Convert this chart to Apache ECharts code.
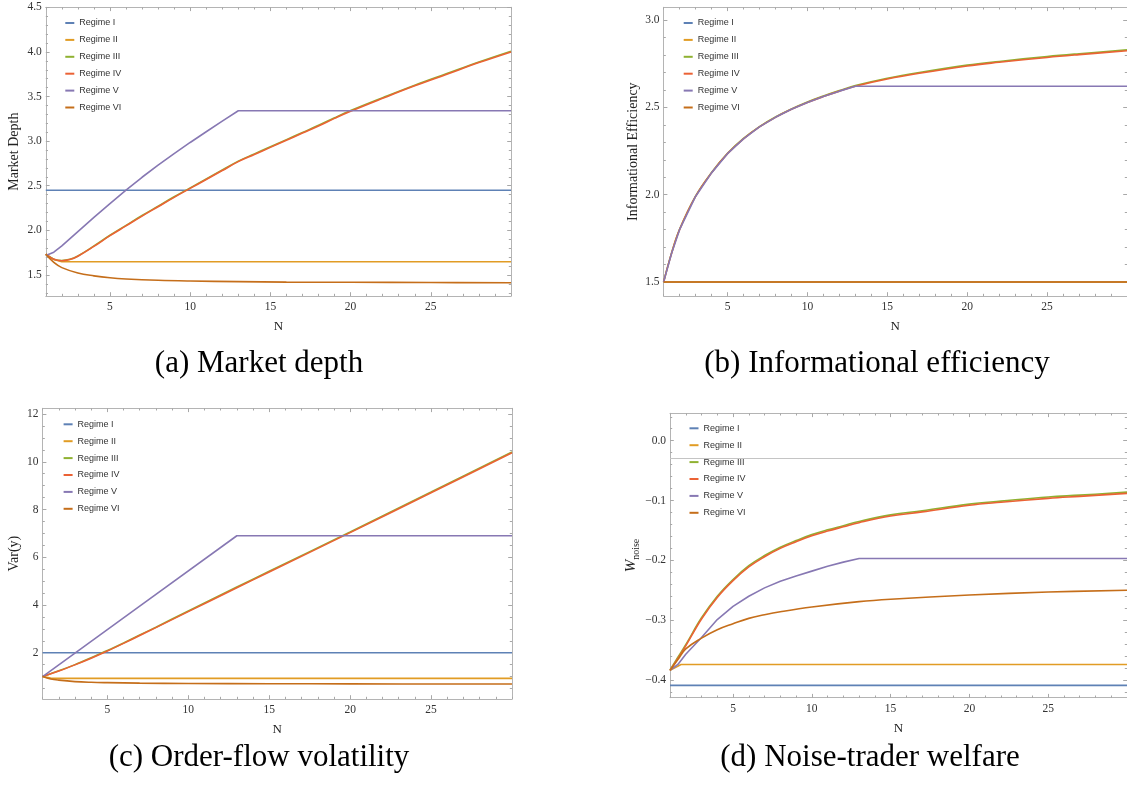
<!DOCTYPE html>
<html><head><meta charset="utf-8">
<script src="https://cdn.jsdelivr.net/npm/echarts@6/dist/echarts.min.js"></script>
<style>html,body{margin:0;padding:0;background:#fff}#c{width:1127px;height:787px}</style>
</head><body><div id="c"></div>
<script>
// ---------- labels ----------
const regimes = ['Regime I','Regime II','Regime III','Regime IV','Regime V','Regime VI'];
const captions = ['(a) Market depth','(b) Informational efficiency','(c) Order-flow volatility','(d) Noise-trader welfare'];
const xTickLabels = [5,10,15,20,25];
const depthTicks = [1.5,2.0,2.5,3.0,3.5,4.0,4.5];
const effTicks = [1.5,2.0,2.5,3.0];
const volTicks = [2,4,6,8,10,12];
const welfTicks = [-0.4,-0.3,-0.2,-0.1,0.0];

// ---------- (a) Market depth ----------
const depthI_N = [1,30];
const depthI = [2.449,2.449];
const depthII_N = [1,1.5,2,30];
const depthII = [1.732,1.672,1.648,1.648];
const depthIII_N = [1,1.5,2,2.5,3,4,5,6,7,8,9,10,11,12,13,14,15,16,17,18,19,20,22,24,26,28,30];
const depthIII = [1.732,1.677,1.662,1.675,1.713,1.825,1.945,2.056,2.166,2.271,2.376,2.476,2.576,2.676,2.776,2.857,2.937,3.017,3.097,3.177,3.262,3.342,3.487,3.627,3.757,3.887,4.008];
const depthIV_N = [1,1.5,2,2.5,3,4,5,6,7,8,9,10,11,12,13,14,15,16,17,18,19,20,22,24,26,28,30];
const depthIV = [1.732,1.675,1.659,1.672,1.71,1.82,1.94,2.05,2.16,2.265,2.37,2.47,2.57,2.67,2.77,2.85,2.93,3.01,3.09,3.17,3.255,3.335,3.48,3.62,3.75,3.88,4.0];
const depthV_N = [1,1.5,2,3,4,5,6,7,8,9,10,11,12,13,30];
const depthV = [1.718,1.755,1.825,1.985,2.145,2.30,2.45,2.595,2.73,2.86,2.985,3.105,3.225,3.34,3.34];
const depthVI_N = [1,1.5,2,3,4,5,6,8,10,13,16,20,25,30];
const depthVI = [1.732,1.64,1.582,1.522,1.49,1.468,1.455,1.44,1.432,1.425,1.42,1.418,1.415,1.413];

// ---------- (b) Informational efficiency ----------
const effI_N = [1,30];
const effI = [1.5,1.5];
const effII_N = [1,30];
const effII = [1.5,1.5];
const effIII_N = [1,1.5,2,3,4,5,6,7,8,9,10,11,12,13,15,17,20,22,25,27,30];
const effIII = [1.5,1.667,1.802,1.992,2.127,2.237,2.322,2.39,2.445,2.491,2.531,2.565,2.596,2.625,2.667,2.7,2.742,2.763,2.791,2.807,2.829];
const effIV_N = [1,1.5,2,3,4,5,6,7,8,9,10,11,12,13,15,17,20,22,25,27,30];
const effIV = [1.5,1.665,1.80,1.99,2.125,2.235,2.32,2.388,2.443,2.489,2.528,2.562,2.593,2.621,2.662,2.695,2.737,2.758,2.786,2.802,2.824];
const effV_N = [1,1.5,2,3,4,5,6,7,8,9,10,11,12,13,30];
const effV = [1.5,1.665,1.80,1.99,2.125,2.235,2.32,2.388,2.443,2.489,2.528,2.562,2.593,2.621,2.621];
const effVI_N = [1,30];
const effVI = [1.5,1.5];

// ---------- (c) Order-flow volatility ----------
const volI_N = [1,30];
const volI = [2,2];
const volII_N = [1,1.5,2,30];
const volII = [1.0,0.935,0.925,0.925];
const volIII_N = [1,2,3,4,5,6,7,8,10,13,15,20,25,30];
const volIII = [1.0,1.24,1.5,1.79,2.09,2.41,2.74,3.07,3.75,4.75,5.41,7.06,8.73,10.41];
const volIV_N = [1,2,3,4,5,6,7,8,10,13,15,20,25,30];
const volIV = [1.0,1.23,1.49,1.77,2.07,2.39,2.72,3.05,3.72,4.72,5.38,7.03,8.7,10.38];
const volV_N = [1,7,13,30];
const volV = [1.0,3.95,6.9,6.9];
const volVI_N = [1,1.5,2,3,4,5,7,10,15,20,30];
const volVI = [1.0,0.9,0.85,0.79,0.76,0.745,0.725,0.71,0.7,0.693,0.687];

// ---------- (d) Noise-trader welfare ----------
const welfI_N = [1,30];
const welfI = [-0.409,-0.409];
const welfII_N = [1,1.7,30];
const welfII = [-0.384,-0.374,-0.374];
const welfIII_N = [1,1.5,2,3,4,5,6,7,8,9,10,11,12,13,15,17,20,22,25,27,30];
const welfIII = [-0.383,-0.362,-0.341,-0.296,-0.26,-0.232,-0.209,-0.192,-0.178,-0.167,-0.157,-0.149,-0.142,-0.135,-0.124,-0.117,-0.106,-0.101,-0.094,-0.091,-0.086];
const welfIV_N = [1,1.5,2,3,4,5,6,7,8,9,10,11,12,13,15,17,20,22,25,27,30];
const welfIV = [-0.384,-0.364,-0.343,-0.298,-0.262,-0.234,-0.211,-0.194,-0.180,-0.169,-0.159,-0.151,-0.144,-0.137,-0.126,-0.119,-0.108,-0.103,-0.0964,-0.093,-0.088];
const welfV_N = [1,1.5,2,3,4,5,6,7,8,9,10,11,12,13,30];
const welfV = [-0.384,-0.374,-0.357,-0.329,-0.299,-0.277,-0.26,-0.246,-0.235,-0.226,-0.218,-0.21,-0.203,-0.197,-0.197];
const welfVI_N = [1,1.5,2,3,4,5,6,7,8,10,13,15,20,25,30];
const welfVI = [-0.384,-0.366,-0.348,-0.330,-0.316,-0.306,-0.297,-0.291,-0.286,-0.278,-0.269,-0.265,-0.258,-0.253,-0.25];
const welfAxisLine = -0.026;

// ---------- styling ----------
const colors = ['#5E81B5','#E19C24','#8FB131','#EB6235','#8778B3','#C56E1A'];
const frameColor = '#b4b4b4';
const tickColor = '#a8a8a8';
const serif = '"Liberation Serif", "Times New Roman", serif';
const sans = '"Liberation Sans", Arial, sans-serif';

function zip(xs, ys){ return xs.map((x,i)=>[x, ys[i]]); }
function stepTicks(min, max, step, exclude){
  const out = [];
  const s = Math.ceil(min/step - 1e-9);
  for (let k = s; k*step <= max + 1e-9; k++){
    const v = +(k*step).toFixed(6);
    if (!exclude.some(e => Math.abs(e - v) < 1e-9)) out.push(v);
  }
  return out;
}

const panels = [
  { grid:{left:45.8, top:7.3, width:465.2, height:288.7},
    ymin:1.264, ymax:4.5, yTicks:depthTicks, yMinor:0.1, yfmt:v=>v.toFixed(1),
    yName:'Market Depth', yGap:24, legend:{left:65.3, top:17}, cap:{x:259, y:364},
    data:[[depthI_N,depthI],[depthII_N,depthII],[depthIII_N,depthIII],[depthIV_N,depthIV],[depthV_N,depthV],[depthVI_N,depthVI]],
    smooth:[false,false,0.4,0.4,false,0.4] },
  { grid:{left:663.6, top:7.3, width:466.9, height:288.7},
    ymin:1.42, ymax:3.073, yTicks:effTicks, yMinor:0.1, yfmt:v=>v.toFixed(1),
    yName:'Informational Efficiency', yGap:23, legend:{left:683.7, top:17}, cap:{x:877, y:364},
    data:[[effI_N,effI],[effII_N,effII],[effIII_N,effIII],[effIV_N,effIV],[effV_N,effV],[effVI_N,effVI]],
    smooth:[false,false,0.4,0.4,false,false] },
  { grid:{left:42.6, top:408.3, width:469.4, height:290.7},
    ymin:0.06, ymax:12.24, yTicks:volTicks, yMinor:0.5, yfmt:v=>String(v),
    yName:'Var(y)', yGap:21, legend:{left:63.6, top:418.3}, cap:{x:259, y:758},
    data:[[volI_N,volI],[volII_N,volII],[volIII_N,volIII],[volIV_N,volIV],[volV_N,volV],[volVI_N,volVI]],
    smooth:[false,false,0.3,0.3,false,0.4] },
  { grid:{left:670, top:413.3, width:459, height:284.4},
    ymin:-0.4296, ymax:0.0458, yTicks:welfTicks, yMinor:0.02, yfmt:v=>(Math.abs(v)<1e-9?'0.0':v.toFixed(1).replace('-','\u2212')),
    yName:'{w|W}{s|noise}', yGap:28, rich:true, legend:{left:689.5, top:422.3}, cap:{x:870, y:758},
    data:[[welfI_N,welfI],[welfII_N,welfII],[welfIII_N,welfIII],[welfIV_N,welfIV],[welfV_N,welfV],[welfVI_N,welfVI]],
    smooth:[false,false,0.4,0.4,false,0.4] }
];

const option = {
  animation:false,
  backgroundColor:'#fff',
  grid:[], xAxis:[], yAxis:[], series:[], legend:[], graphic:[]
};

panels.forEach((p, gi) => {
  option.grid.push(Object.assign({}, p.grid));
  const xmin = 1, xmax = 30;
  const xMinorVals = stepTicks(xmin, xmax, 1, xTickLabels);
  const yMinorVals = stepTicks(p.ymin, p.ymax, p.yMinor, p.yTicks);
  const baseX = {type:'value', gridIndex:gi, min:xmin, max:xmax, splitLine:{show:false},
    axisLine:{show:true, onZero:false, lineStyle:{color:frameColor, width:1}}};
  const baseY = {type:'value', gridIndex:gi, min:p.ymin, max:p.ymax, splitLine:{show:false},
    axisLine:{show:true, onZero:false, lineStyle:{color:frameColor, width:1}}};
  option.xAxis.push(Object.assign({}, baseX, {position:'bottom',
    name:'N', nameLocation:'middle', nameGap:24,
    nameTextStyle:{fontFamily:serif, fontSize:13, color:'#222'},
    axisTick:{show:true, inside:true, length:3.8, customValues:xTickLabels, lineStyle:{color:tickColor}},
    axisLabel:{show:true, margin:5, customValues:xTickLabels, fontFamily:serif, fontSize:11.5, color:'#333', formatter:v=>String(v)}}));
  option.xAxis.push(Object.assign({}, baseX, {position:'bottom', axisLine:{show:false, onZero:false},
    axisTick:{show:true, inside:true, length:2.2, customValues:xMinorVals, lineStyle:{color:tickColor}},
    axisLabel:{show:false}}));
  option.xAxis.push(Object.assign({}, baseX, {position:'top',
    axisTick:{show:true, inside:true, length:3.8, customValues:xTickLabels, lineStyle:{color:tickColor}},
    axisLabel:{show:false}}));
  option.xAxis.push(Object.assign({}, baseX, {position:'top', axisLine:{show:false, onZero:false},
    axisTick:{show:true, inside:true, length:2.2, customValues:xMinorVals, lineStyle:{color:tickColor}},
    axisLabel:{show:false}}));

  const nameStyle = p.rich ? {
      rich:{
        w:{fontFamily:serif, fontStyle:'italic', fontSize:15, color:'#222', lineHeight:20},
        s:{fontFamily:serif, fontSize:10, color:'#222', lineHeight:20, verticalAlign:'bottom'}
      }} : {fontFamily:serif, fontSize:14, color:'#222', lineHeight:14};
  option.yAxis.push(Object.assign({}, baseY, {position:'left',
    name:p.yName, nameLocation:'middle', nameGap:p.yGap, nameRotate:90,
    nameTextStyle:nameStyle,
    axisTick:{show:true, inside:true, length:3.8, customValues:p.yTicks, lineStyle:{color:tickColor}},
    axisLabel:{show:true, margin:4, customValues:p.yTicks, fontFamily:serif, fontSize:11.5, color:'#333', formatter:p.yfmt}}));
  option.yAxis.push(Object.assign({}, baseY, {position:'left', axisLine:{show:false, onZero:false},
    axisTick:{show:true, inside:true, length:2.2, customValues:yMinorVals, lineStyle:{color:tickColor}},
    axisLabel:{show:false}}));
  option.yAxis.push(Object.assign({}, baseY, {position:'right',
    axisTick:{show:true, inside:true, length:3.8, customValues:p.yTicks, lineStyle:{color:tickColor}},
    axisLabel:{show:false}}));
  option.yAxis.push(Object.assign({}, baseY, {position:'right', axisLine:{show:false, onZero:false},
    axisTick:{show:true, inside:true, length:2.2, customValues:yMinorVals, lineStyle:{color:tickColor}},
    axisLabel:{show:false}}));

  p.data.forEach((d, si) => {
    const s = {
      type:'line', name:regimes[si], xAxisIndex:gi*4, yAxisIndex:gi*4,
      data:zip(d[0], d[1]), showSymbol:false, symbol:'none',
      smooth:p.smooth[si],
      lineStyle:{color:colors[si], width:1.6},
      itemStyle:{color:colors[si]},
      emphasis:{disabled:true}
    };
    if (gi === 3 && si === 0){
      s.markLine = {silent:true, symbol:'none', label:{show:false},
        lineStyle:{color:'#c4c4c4', width:1, type:'solid'},
        data:[{yAxis:welfAxisLine}]};
    }
    option.series.push(s);
  });

  option.legend.push({
    orient:'vertical', left:p.legend.left, top:p.legend.top, padding:0,
    data:regimes, icon:'rect', itemWidth:9, itemHeight:2, itemGap:4.9,
    selectedMode:false,
    textStyle:{fontFamily:sans, fontSize:9, color:'#333', lineHeight:12}
  });

  option.graphic.push({
    type:'text', x:p.cap.x, y:p.cap.y, silent:true,
    style:{text:captions[gi], font:'31px ' + serif, fill:'#000',
      textAlign:'center', textVerticalAlign:'middle', align:'center', verticalAlign:'middle'}
  });
});

const chart = echarts.init(document.getElementById('c'), null, {renderer:'canvas'});
chart.setOption(option);
</script>
</body></html>
